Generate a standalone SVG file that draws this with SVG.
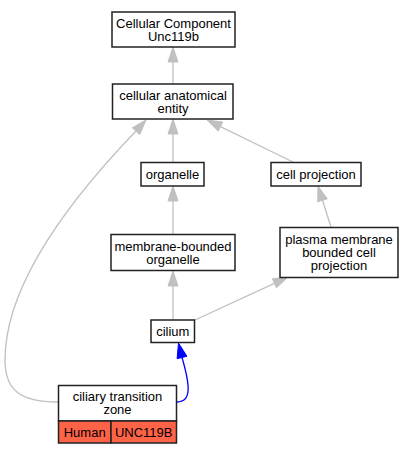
<svg xmlns="http://www.w3.org/2000/svg" width="413" height="453" viewBox="0 0 413 453">
<style>
.box{fill:#fff;stroke:#222;stroke-width:1.5}
.org{fill:#ff6347;stroke:#222;stroke-width:1.5}
text{font-family:"Liberation Sans",Arial,sans-serif;font-size:13px;fill:#000;text-anchor:middle}
.e{fill:none;stroke:#c0c0c0;stroke-width:1.3}
.h{fill:#c0c0c0;stroke:#c0c0c0;stroke-width:1}
.eb{fill:none;stroke:#0000ff;stroke-width:1.3}
.hb{fill:#0000ff;stroke:#0000ff;stroke-width:1}
</style>
<rect width="413" height="453" fill="#fff"/>
<g id="edges">
<path class="e" d="M173,84 L173,62"/><polygon class="h" points="173,47 168,62 178,62"/>
<path class="e" d="M173,162 L173,134"/><polygon class="h" points="173,119 168,134 178,134"/>
<path class="e" d="M173,234 L173,201"/><polygon class="h" points="173,186 168,201 178,201"/>
<path class="e" d="M173,320 L173,286"/><polygon class="h" points="173,271 168,286 178,286"/>
<path class="e" d="M293,162 L220.5,126.6"/><polygon class="h" points="207,120 222.7,122.1 218.3,131.1"/>
<path class="e" d="M331,227 L322.5,200.3"/><polygon class="h" points="318,186 327.3,198.8 317.7,201.8"/>
<path class="e" d="M195,320 L274.4,283.3"/><polygon class="h" points="288,277 276.5,287.8 272.3,278.8"/>
<path class="e" d="M58,402 C20,402 5,390 5,360 C5,290 60,210 136,131"/><polygon class="h" points="146,120 139.7,134.5 132.3,127.8"/>
<path class="eb" d="M177,402 C192,402 190,385 182,357.5"/><polygon class="hb" points="178.5,343 186.9,356.3 177.1,358.7"/>
</g>
<g id="node-cc"><rect class="box" x="112" y="12" width="123" height="35"/><text x="173.5" y="27.7">Cellular Component</text><text x="173.5" y="40.7">Unc119b</text></g>
<g id="node-cae"><rect class="box" x="112.5" y="84" width="120.5" height="35"/><text x="173" y="99.7">cellular anatomical</text><text x="173" y="112.7">entity</text></g>
<g id="node-organelle"><rect class="box" x="141" y="162.5" width="63" height="23.5"/><text x="172.5" y="178.8">organelle</text></g>
<g id="node-cp"><rect class="box" x="271" y="162.5" width="90" height="23.5"/><text x="316" y="178.8">cell projection</text></g>
<g id="node-mbo"><rect class="box" x="111" y="234.5" width="124" height="36"/><text x="173" y="250.7">membrane-bounded</text><text x="173" y="263.7">organelle</text></g>
<g id="node-pmbcp"><rect class="box" x="280" y="227.5" width="118" height="50"/><text x="339" y="244.2">plasma membrane</text><text x="339" y="257.2">bounded cell</text><text x="339" y="270.2">projection</text></g>
<g id="node-cilium"><rect class="box" x="151" y="320" width="43.5" height="22.5"/><text x="172.8" y="335.9">cilium</text></g>
<g id="node-ctz"><rect class="box" x="58.5" y="385.5" width="118" height="35.5"/><text x="117.5" y="401.2">ciliary transition</text><text x="117.5" y="414.2">zone</text>
<rect class="org" x="58.5" y="421" width="52.5" height="22"/><text x="84.7" y="436.5">Human</text>
<rect class="org" x="111" y="421" width="65.5" height="22"/><text x="143.7" y="436.5">UNC119B</text></g>
</svg>
